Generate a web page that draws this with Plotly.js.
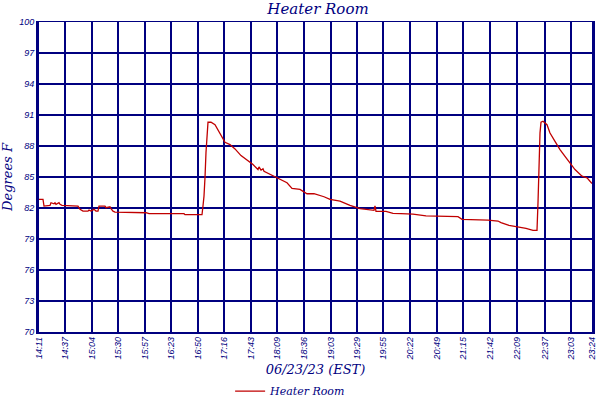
<!DOCTYPE html>
<html>
<head>
<meta charset="utf-8">
<script src="https://cdn.plot.ly/plotly-3.0.1.min.js"></script>
<style>
  html, body { margin: 0; padding: 0; background: #fff; }
  #chart { width: 600px; height: 400px; }
</style>
</head>
<body>
<div id="chart"></div>
<script>
// Readings from the heater room logger, 06/23/23
const times = [
    '14:11', '14:15', '14:16', '14:22', '14:23', '14:26', '14:27', '14:28', '14:31', '14:32',
    '14:34', '14:37', '14:39', '14:41', '14:42', '14:45', '14:47', '14:50', '14:52', '14:55',
    '15:00', '15:01', '15:03', '15:06', '15:08', '15:10', '15:11', '15:17', '15:18', '15:22',
    '15:23', '15:25', '15:27', '15:38', '15:41', '15:55', '15:56', '15:58', '16:01', '16:31',
    '16:33', '16:36', '16:37', '16:54', '16:55', '16:56', '16:57', '16:58', '17:00', '17:03',
    '17:07', '17:12', '17:17', '17:22', '17:27', '17:33', '17:40', '17:45', '17:50', '17:51',
    '17:53', '17:55', '17:56', '18:03', '18:10', '18:19', '18:24', '18:32', '18:39', '18:46',
    '18:56', '19:02', '19:12', '19:22', '19:32', '19:42', '19:46', '19:47', '19:48', '19:58',
    '20:05', '20:13', '20:25', '20:38', '20:54', '21:10', '21:14', '21:30', '21:40', '21:50',
    '21:53', '22:01', '22:10', '22:18', '22:25', '22:29', '22:30', '22:31', '22:32', '22:33',
    '22:35', '22:39', '22:42', '22:47', '22:52', '22:57', '23:02', '23:07', '23:14', '23:19',
    '23:24'
];
const temps = [
    82.83, 82.83, 82.19, 82.25, 82.51, 82.41, 82.51, 82.35, 82.51, 82.35,
    82.25, 82.25, 82.19, 82.19, 82.25, 82.25, 82.19, 82.19, 81.87, 81.70,
    81.70, 81.80, 81.70, 81.87, 81.70, 81.70, 82.19, 82.19, 82.03, 82.12,
    81.93, 81.70, 81.61, 81.61, 81.54, 81.54, 81.61, 81.54, 81.45, 81.45,
    81.38, 81.45, 81.35, 81.35, 82.20, 83.15, 84.95, 87.40, 90.30, 90.30,
    90.06, 89.26, 88.36, 88.14, 87.72, 87.07, 86.53, 86.20, 85.72, 85.98,
    85.66, 85.79, 85.56, 85.24, 84.92, 84.44, 83.90, 83.80, 83.38, 83.38,
    83.09, 82.83, 82.67, 82.25, 81.93, 81.77, 81.77, 82.20, 81.67, 81.67,
    81.48, 81.45, 81.40, 81.23, 81.16, 81.16, 80.90, 80.90, 80.83, 80.74,
    80.58, 80.32, 80.19, 80.03, 79.84, 79.84, 82.50, 86.53, 89.26, 90.30,
    90.40, 90.06, 89.26, 88.45, 87.65, 87.00, 86.37, 85.72, 85.08, 84.92,
    84.37
];

const xTickLabels = [
    '14:11', '14:37', '15:04', '15:30', '15:57', '16:23', '16:50', '17:16', '17:43', '18:09',
    '18:36', '19:03', '19:29', '19:55', '20:22', '20:49', '21:15', '21:42', '22:09', '22:37',
    '23:03', '23:24'
];
const yTicks = [70, 73, 76, 79, 82, 85, 88, 91, 94, 97, 100];

const seriesName = 'Heater Room';
const chartTitle = 'Heater Room';
const xTitle = '06/23/23 (EST)';
const yTitle = 'Degrees F';

// clock "HH:MM" -> minutes since the first reading
function toMinutes(t) {
    const parts = t.split(':');
    return parseInt(parts[0], 10) * 60 + parseInt(parts[1], 10) - (14 * 60 + 11);
}

const navy = '#000080';
const serif = '"DejaVu Serif", "Liberation Serif", serif';
const sans = '"Liberation Sans", Arial, sans-serif';

const trace = {
    type: 'scatter',
    mode: 'lines',
    x: times.map(toMinutes),
    y: temps,
    name: seriesName,
    line: { color: '#c00000', width: 1.3 },
    hoverinfo: 'x+y'
};

// plot box is 553 px wide (one pixel per minute) and 310 px tall, so grid lines sit on whole pixels
const layout = {
    width: 600,
    height: 400,
    margin: { l: 39, r: 8, t: 22, b: 68 },
    paper_bgcolor: '#ffffff',
    plot_bgcolor: '#ffffff',
    title: {
        text: chartTitle,
        font: { family: serif, size: 15, color: navy, style: 'italic' },
        x: 0.53,
        xanchor: 'center',
        y: 0.978,
        yanchor: 'middle',
        yref: 'container'
    },
    xaxis: {
        range: [0, toMinutes('23:24')],
        tickvals: xTickLabels.map(toMinutes),
        ticktext: xTickLabels,
        tickangle: -90,
        ticks: '',
        ticklabeloverflow: 'allow',
        tickfont: { family: sans, size: 9, color: navy, style: 'italic' },
        showgrid: true,
        gridcolor: navy,
        gridwidth: 2,
        showline: true,
        linecolor: navy,
        linewidth: 1.5,
        mirror: true,
        zeroline: false,
        title: {
            text: xTitle,
            font: { family: serif, size: 13, color: navy, style: 'italic' },
            standoff: 6
        }
    },
    yaxis: {
        range: [70, 100],
        tickvals: yTicks,
        ticktext: yTicks.map(String),
        ticks: '',
        tickfont: { family: sans, size: 9, color: navy, style: 'italic' },
        showgrid: true,
        gridcolor: navy,
        gridwidth: 2,
        showline: true,
        linecolor: navy,
        linewidth: 3,
        mirror: true,
        zeroline: false,
        title: {
            text: yTitle,
            font: { family: serif, size: 13, color: navy, style: 'italic' },
            standoff: 4
        }
    },
    showlegend: true,
    legend: {
        orientation: 'h',
        x: 0.455,
        xanchor: 'center',
        y: 0.022,
        yanchor: 'middle',
        yref: 'container',
        font: { family: serif, size: 11, color: navy, style: 'italic' },
        itemwidth: 30,
        bgcolor: 'rgba(0,0,0,0)'
    }
};

Plotly.newPlot('chart', [trace], layout, { displayModeBar: false, staticPlot: true });
</script>
</body>
</html>
